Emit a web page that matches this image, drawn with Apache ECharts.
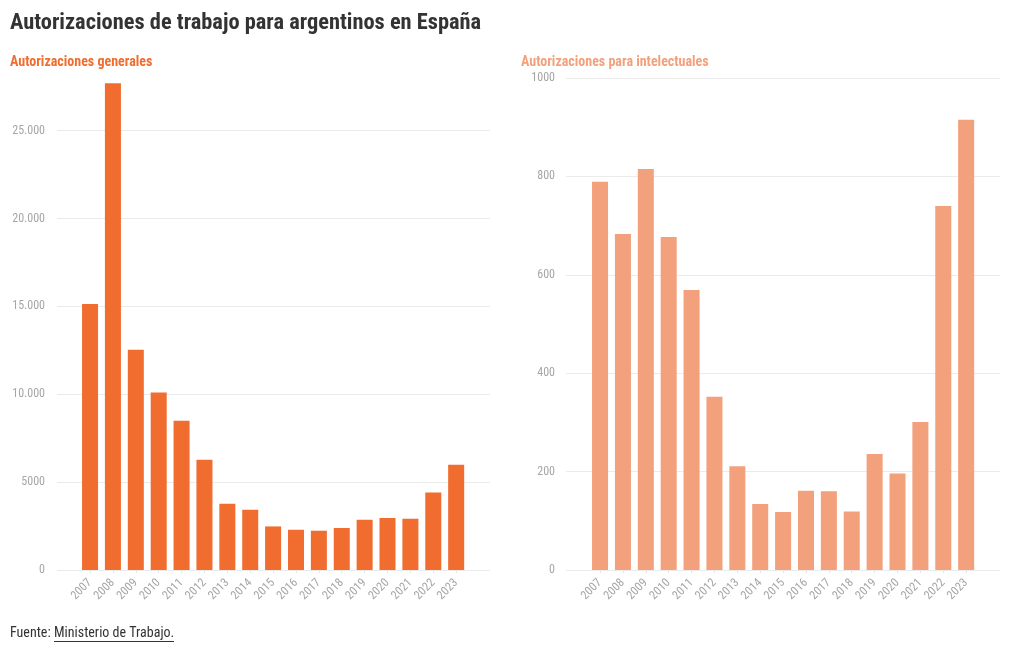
<!DOCTYPE html>
<html>
<head>
<meta charset="utf-8">
<script src="https://cdn.jsdelivr.net/npm/echarts@6/dist/echarts.min.js"></script>
<style>html,body{margin:0;padding:0;background:#fff}#c{width:1020px;height:650px}</style>
</head>
<body>
<div id="c"></div>
<script>
const years = ['2007','2008','2009','2010','2011','2012','2013','2014','2015','2016','2017','2018','2019','2020','2021','2022','2023'];
const generales = [15140,27700,12530,10100,8490,6270,3770,3430,2480,2290,2235,2390,2860,2955,2915,4410,5990];
const intelectuales = [789,683,815,677,569,352,211,134,118,161,160,119,236,196,301,740,915];
const leftTicks = [0,5000,10000,15000,20000,25000];
const leftTickLabels = ['0','5000','10.000','15.000','20.000','25.000'];
const rightTicks = [0,200,400,600,800,1000];
const rightTickLabels = ['0','200','400','600','800','1000'];

const FONT = '"Roboto Condensed", Roboto, sans-serif';
const labelColor = '#a6a6a6';
const gridColor = '#ebebeb';
const c1 = '#f06d2f', c2 = '#f3a07c';

function fmt(ticks, labels){ return v => { const i = ticks.indexOf(v); return i >= 0 ? labels[i] : ''; }; }

const xLabel = {rotate:45, color:labelColor, fontSize:12, margin:11, fontFamily:FONT};
const xTick = {show:true, alignWithLabel:true, length:3, lineStyle:{color:'#e6e6e6'}};

const chart = echarts.init(document.getElementById('c'), null, {renderer:'canvas'});
chart.setOption({
  animation:false,
  textStyle:{fontFamily:FONT},
  title:[
    {text:'Autorizaciones de trabajo para argentinos en España', left:10, top:12, padding:0,
     textStyle:{fontFamily:FONT, fontSize:22.4, fontWeight:'bold', color:'#333'}},
    {text:'Autorizaciones generales', left:10, top:55, padding:0,
     textStyle:{fontFamily:FONT, fontSize:14, fontWeight:'bold', color:c1}},
    {text:'Autorizaciones para intelectuales', left:521, top:55, padding:0,
     textStyle:{fontFamily:FONT, fontSize:14, fontWeight:'bold', color:c2}}
  ],
  grid:[
    {left:57, top:78, width:433, height:492},
    {left:78.6, top:78, width:389, height:492},
    {left:566, top:78, width:434, height:492},
    {left:588.6, top:78, width:389, height:492}
  ],
  xAxis:[
    {gridIndex:0, type:'value', show:false, min:0, max:1},
    {gridIndex:1, type:'category', data:years, axisLine:{show:false}, axisTick:xTick, axisLabel:xLabel},
    {gridIndex:2, type:'value', show:false, min:0, max:1},
    {gridIndex:3, type:'category', data:years, axisLine:{show:false}, axisTick:xTick, axisLabel:xLabel}
  ],
  yAxis:[
    {gridIndex:0, type:'value', min:0, max:28000,
     axisLine:{show:false}, axisTick:{show:false, customValues:leftTicks},
     axisLabel:{customValues:leftTicks, formatter:fmt(leftTicks,leftTickLabels), color:labelColor, fontSize:12, margin:12, fontFamily:FONT},
     splitLine:{show:true, lineStyle:{color:gridColor, width:1}}},
    {gridIndex:1, type:'value', min:0, max:28000, show:false, splitLine:{show:false}},
    {gridIndex:2, type:'value', min:0, max:1000, interval:200,
     axisLine:{show:false}, axisTick:{show:false},
     axisLabel:{formatter:fmt(rightTicks,rightTickLabels), color:labelColor, fontSize:12, margin:11, fontFamily:FONT},
     splitLine:{show:true, lineStyle:{color:gridColor, width:1}}},
    {gridIndex:3, type:'value', min:0, max:1000, show:false, splitLine:{show:false}}
  ],
  series:[
    {type:'bar', xAxisIndex:1, yAxisIndex:1, data:generales, barWidth:'70%', itemStyle:{color:c1}},
    {type:'bar', xAxisIndex:3, yAxisIndex:3, data:intelectuales, barWidth:'70%', itemStyle:{color:c2}}
  ],
  graphic:[
    {type:'text', left:10, top:626, style:{text:'Fuente:', font:'14px ' + FONT, fill:'#333'}},
    {type:'text', left:54, top:626, style:{text:'Ministerio de Trabajo.', font:'14px ' + FONT, fill:'#333'}},
    {type:'line', shape:{x1:54, y1:641.5, x2:174, y2:641.5}, style:{stroke:'#333', lineWidth:1}}
  ]
});
</script>
</body>
</html>
